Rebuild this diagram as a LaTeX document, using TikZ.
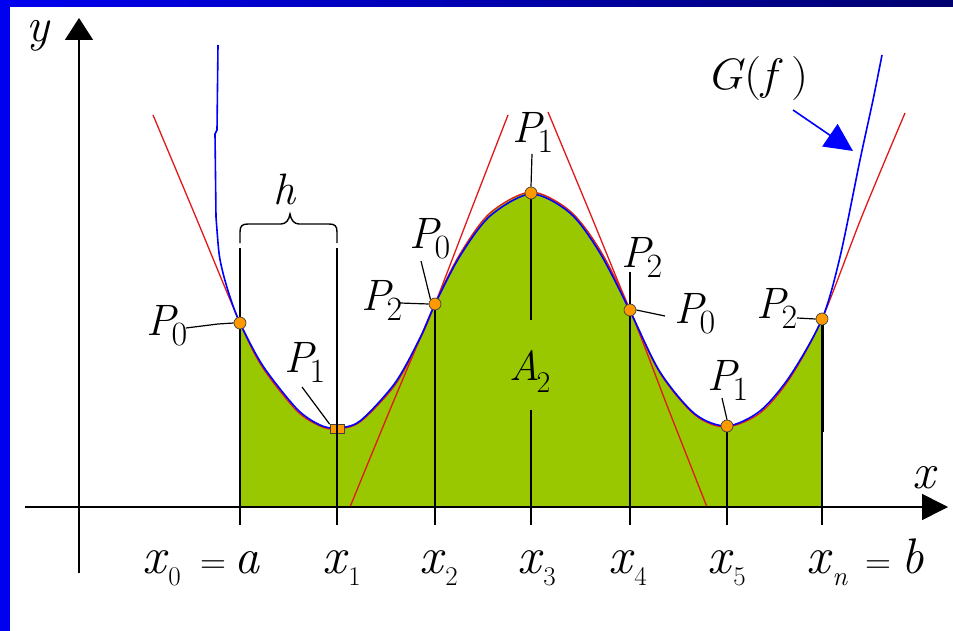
\documentclass[tikz,border=0pt]{standalone}
\usepackage{fontspec}
\usetikzlibrary{arrows.meta}
\definecolor{grn}{RGB}{153,200,0}
\definecolor{frameblue}{RGB}{0,0,240}
\definecolor{framenavy}{RGB}{0,0,110}
\definecolor{redc}{RGB}{225,25,25}
\definecolor{ptorange}{RGB}{255,153,0}
\newcommand\Psub[1]{\fontsize{44}{50}\selectfont\textit{P}\kern-6pt\raisebox{-10pt}{\fontsize{34}{40}\selectfont #1}}
\newcommand\Xsub[1]{\fontsize{52}{54}\selectfont\textit{x}\kern0pt\raisebox{-12pt}{\fontsize{27}{30}\selectfont #1}}
\begin{document}
\begin{tikzpicture}[x=1pt,y=-1pt,
  redcurve/.style={draw=redc, line width=1.3pt},
  bluecurve/.style={draw=blue, line width=1.6pt},
  vline/.style={draw=black, line width=1.4pt},
  axis/.style={draw=black, line width=1.6pt},
  leader/.style={draw=black, line width=1.2pt},
  ptmark/.style={circle, fill=ptorange, draw=black!75, line width=0.7pt, inner sep=0pt, minimum size=12pt},
  lbl/.style={anchor=base west, inner sep=0pt}]
\useasboundingbox (0,0) rectangle (953,631);
\fill[white] (0,0) rectangle (953,631);
\fill[frameblue] (0,0) rectangle (10,631);
\shade[left color=frameblue, right color=framenavy] (0,0) rectangle (953,7);

% green area
\fill[grn] (240,507) -- plot[smooth] coordinates {(240,323) (263,368) (297,411) (320,426) (336,429) (360,422) (395,385) (420,339) (435,304) (460,254) (490,213) (531,192) (570,211) (600,250) (630,310) (660,373) (695,415) (726,427) (760,413) (790,378) (822,319)} -- (822,507) -- cycle;

% red parabolas
\draw[redcurve] plot[smooth] coordinates {(153,115) (195,215) (240,323) (263,368) (297,411) (320,426) (336,429) (360,422) (395,385) (420,339) (435,304) (470,213) (508,115)};
\draw[redcurve] plot[smooth] coordinates {(350,507) (392,405) (435,304) (460,254) (490,213) (531,192) (570,211) (600,250) (630,310) (668,408) (707,507)};
\draw[redcurve] plot[smooth] coordinates {(548,112) (590,213) (630,310) (660,373) (695,415) (726,427) (760,413) (790,378) (822,319) (862,216) (905,113)};

% blue graph
\draw[bluecurve] (218,45) -- (217,130) -- (215,134) -- (216,217)
  plot[smooth] coordinates {(216,217) (219,253) (223,273) (230,297) (240,323) (263,366) (297,409) (320,425) (337,428) (360,421) (395,383) (420,338) (435,304) (460,256) (490,216) (531,194) (570,213) (600,253) (630,311) (660,372) (695,414) (727,426) (760,411) (790,376) (822,319) (840,257) (860,160) (873,100) (882,55)};

% axes
\draw[axis, -{Triangle[width=26pt,length=26pt]}] (25,507) -- (948,507);
\draw[axis, -{Triangle[width=28pt,length=22pt]}] (79,573) -- (79,18);
\node[lbl, font=\fontsize{48}{50}\selectfont\itshape] (ylab) at (26,42) {y};
\node[lbl, font=\fontsize{50}{52}\selectfont\itshape] (xlab) at (912,488) {x};

% ticks
\foreach \t in {240,337,435,531,630,727,822} \draw[vline] (\t,507) -- (\t,525);

% vertical lines
\draw[vline] (240,248) -- (240,507);
\draw[vline] (337,248) -- (337,507);
\draw[vline] (435,304) -- (435,507);
\draw[vline] (531,193) -- (531,320);
\draw[vline] (531,410) -- (531,507);
\draw[vline] (630,310) -- (630,507);
\draw[vline] (727,426) -- (727,507);
\draw[draw=black, line width=3pt] (822,319) -- (822,432);
\draw[vline] (822,432) -- (822,507);

% brace h
\draw[line width=1.4pt] (240,243) -- (240,232) .. controls (240,226) and (242,224) .. (248,224) -- (281,224) .. controls (286,224) and (289,220) .. (290,214) .. controls (291,220) and (294,224) .. (299,224) -- (329,224) .. controls (335,224) and (337,226) .. (337,232) -- (337,243);
\node[lbl, font=\fontsize{44}{46}\selectfont\itshape] (hlab) at (273,205) {h};

% G(f) arrow
\node[lbl] (glab) at (706,90) {\scalebox{1.1}[1]{\fontsize{44}{48}\selectfont\textit{G}(\textit{f}\,)}};
\coordinate (garrow) at (793,110);
\coordinate (gtip) at (853,151);
\draw[blue, line width=1.6pt, -{Triangle[width=27pt,length=28pt]}] (garrow) -- (gtip);

% points
\node[ptmark] (pa) at (240,323) {};
\node[rectangle, fill=ptorange, draw=black!75, line width=0.7pt, inner sep=0pt, minimum width=14pt, minimum height=9pt] (pb) at (337,429) {};
\draw[vline] (pb.north) -- (pb.south);
\node[ptmark] (pc) at (435,304) {};
\node[ptmark] (pd) at (531,193) {};
\node[ptmark] (pe) at (630,310) {};
\node[ptmark] (pf) at (727,426) {};
\node[ptmark] (pg) at (822,319) {};

% P labels and leaders
\node[lbl] (l0) at (146,335) {\Psub{0}};
\draw[leader] (186,328) -- (218,324) -- (pa.west);
\node[lbl] (l1) at (284,372) {\Psub{1}};
\draw[leader] (302,387) -- (pb.north west);
\node[lbl] (l2) at (409,248) {\Psub{0}};
\draw[leader] (421,261) -- (pc.north west);
\node[lbl] (l3) at (361,310) {\Psub{2}};
\draw[leader] (400,303) -- (pc.west);
\node[lbl] (l4) at (512,143) {\Psub{1}};
\draw[leader] (532,154) -- (pd.north);
\node[lbl] (l5) at (621,267) {\Psub{2}};
\draw[leader] (630,272) -- (pe.north);
\node[lbl] (l6) at (674,323) {\Psub{0}};
\draw[leader] (665,316) -- (pe.east);
\node[lbl] (l7) at (707,390) {\Psub{1}};
\draw[leader] (722,398) -- (pf.north);
\node[lbl] (l8) at (756,318) {\Psub{2}};
\draw[leader] (797,318) -- (pg.west);

% A2
\node[lbl] (area) at (509,380) {\fontsize{42}{46}\selectfont\textit{A}\kern-3pt\raisebox{-12pt}{\fontsize{30}{34}\selectfont 2}};

% x labels
\node[lbl] (xa) at (142,573) {\Xsub{0}\kern20pt{\fontsize{36}{40}\selectfont =}\kern8pt{\fontsize{50}{52}\selectfont\textit{a}}};
\node[lbl] (x1) at (322,573) {\Xsub{1}};
\node[lbl] (x2) at (419,573) {\Xsub{2}};
\node[lbl] (x3) at (517,573) {\Xsub{3}};
\node[lbl] (x4) at (608,573) {\Xsub{4}};
\node[lbl] (x5) at (707,573) {\Xsub{5}};
\node[lbl] (xb) at (806,573) {\fontsize{52}{54}\selectfont\textit{x}\kern0pt\raisebox{-12pt}{\fontsize{27}{30}\selectfont\textit{n}}\kern18pt{\fontsize{36}{40}\selectfont =}\kern10pt{\fontsize{50}{52}\selectfont\textit{b}}};
\end{tikzpicture}
\end{document}
